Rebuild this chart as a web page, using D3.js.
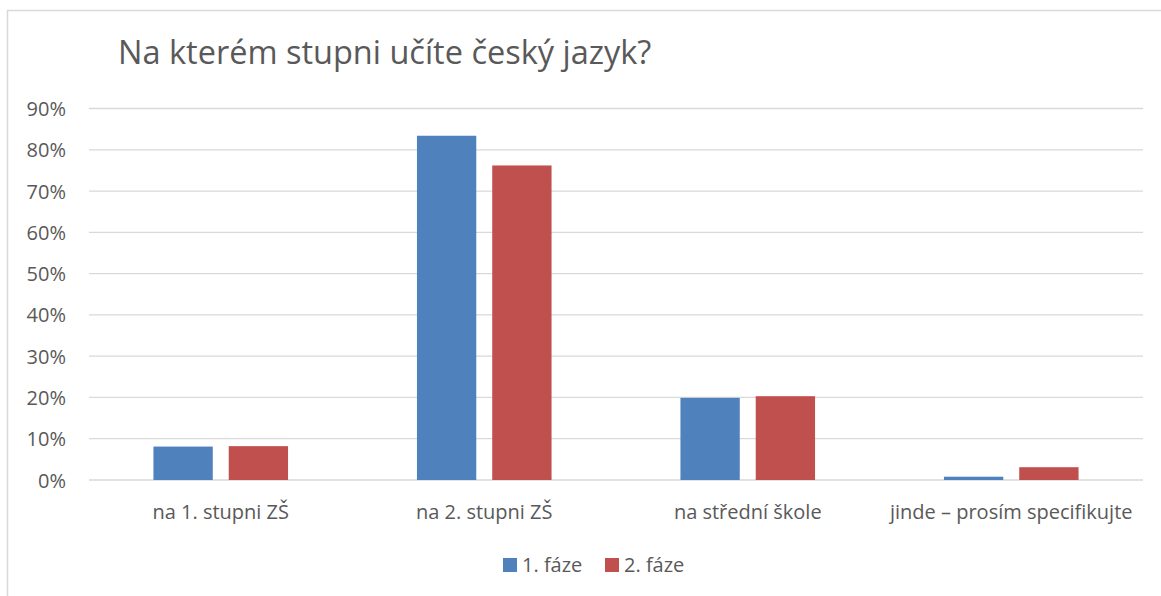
<!DOCTYPE html>
<html>
<head>
<meta charset="utf-8">
<script src="https://cdn.jsdelivr.net/npm/d3@7"></script>
<style>
  body { margin: 0; background: #fff; }
  text { font-family: "Open Sans", sans-serif; fill: #595959; }
</style>
</head>
<body>
<script>
(function (){

    // chart data
    var categories = ["na 1. stupni ZŠ", "na 2. stupni ZŠ", "na střední škole", "jinde – prosím specifikujte"];
    var seriesNames = ["1. fáze", "2. fáze"];
    var phase1 = [8.1, 83.4, 19.9, 0.8];
    var phase2 = [8.2, 76.2, 20.3, 3.1];
    var yTicks = [0, 10, 20, 30, 40, 50, 60, 70, 80, 90];
    var colors = ["#4f81bd", "#c0504d"];
    var title = "Na kterém stupni učíte český jazyk?";

    var width = 1161, height = 596;

    var svg = d3.select("body")
        .append("svg")
        .attr("width", width)
        .attr("height", height);

    //chart frame, runs off the right and bottom edge
    svg.append("rect")
        .attr("x", 7.5)
        .attr("y", 10.5)
        .attr("width", width + 20)
        .attr("height", height + 20)
        .attr("fill", "none")
        .attr("stroke", "#d9d9d9")
        .attr("stroke-width", 1.5);

    var plot = {left: 89, right: 1143, top: 108.5, bottom: 480};

    var x = d3.scaleBand()
        .domain(categories)
        .range([plot.left, plot.right]);

    //series within a category, bars 59px wide with 16px gap
    var xInner = d3.scaleBand()
        .domain(seriesNames)
        .range([0, 134.6])
        .paddingInner(0.212);

    var y = d3.scaleLinear()
        .domain([0, 90])
        .range([plot.bottom, plot.top]);

    //gridlines
    svg.selectAll(".grid")
        .data(yTicks)
        .enter()
        .append("line")
        .attr("class", "grid")
        .attr("x1", plot.left)
        .attr("x2", plot.right)
        .attr("y1", function(d){ return y(d); })
        .attr("y2", function(d){ return y(d); })
        .attr("stroke", "#d9d9d9")
        .attr("stroke-width", 1.3);

    //y tick labels
    svg.selectAll(".ytick")
        .data(yTicks)
        .enter()
        .append("text")
        .attr("class", "ytick")
        .attr("x", 66)
        .attr("y", function(d){ return y(d) + 7.5; })
        .attr("text-anchor", "end")
        .style("font-size", "20px")
        .text(function(d){ return d + "%"; });

    var series = [phase1, phase2];
    var groupOffset = (x.bandwidth() - 134.6) / 2;

    series.forEach(function(vals, s){
        svg.selectAll(".bar" + s)
            .data(vals)
            .enter()
            .append("rect")
            .attr("class", "bar" + s)
            .attr("x", function(d, i){ return x(categories[i]) + groupOffset + xInner(seriesNames[s]); })
            .attr("width", xInner.bandwidth())
            .attr("y", function(d){ return y(d); })
            .attr("height", function(d){ return plot.bottom - y(d); })
            .attr("fill", colors[s]);
    });

    //category labels
    svg.selectAll(".xlabel")
        .data(categories)
        .enter()
        .append("text")
        .attr("class", "xlabel")
        .attr("x", function(d){ return x(d) + x.bandwidth() / 2; })
        .attr("y", 518.5)
        .attr("text-anchor", "middle")
        .style("font-size", "20px")
        .text(function(d){ return d; });

    //title
    svg.append("text")
        .attr("x", 118)
        .attr("y", 64)
        .style("font-size", "32.5px")
        .text(title);

    //legend
    var legendX = [503, 605];
    seriesNames.forEach(function(name, s){
        svg.append("rect")
            .attr("x", legendX[s])
            .attr("y", 558)
            .attr("width", 14)
            .attr("height", 14)
            .attr("fill", colors[s]);
        svg.append("text")
            .attr("x", legendX[s] + 19)
            .attr("y", 572)
            .style("font-size", "20px")
            .text(name);
    });

})();
</script>
</body>
</html>
